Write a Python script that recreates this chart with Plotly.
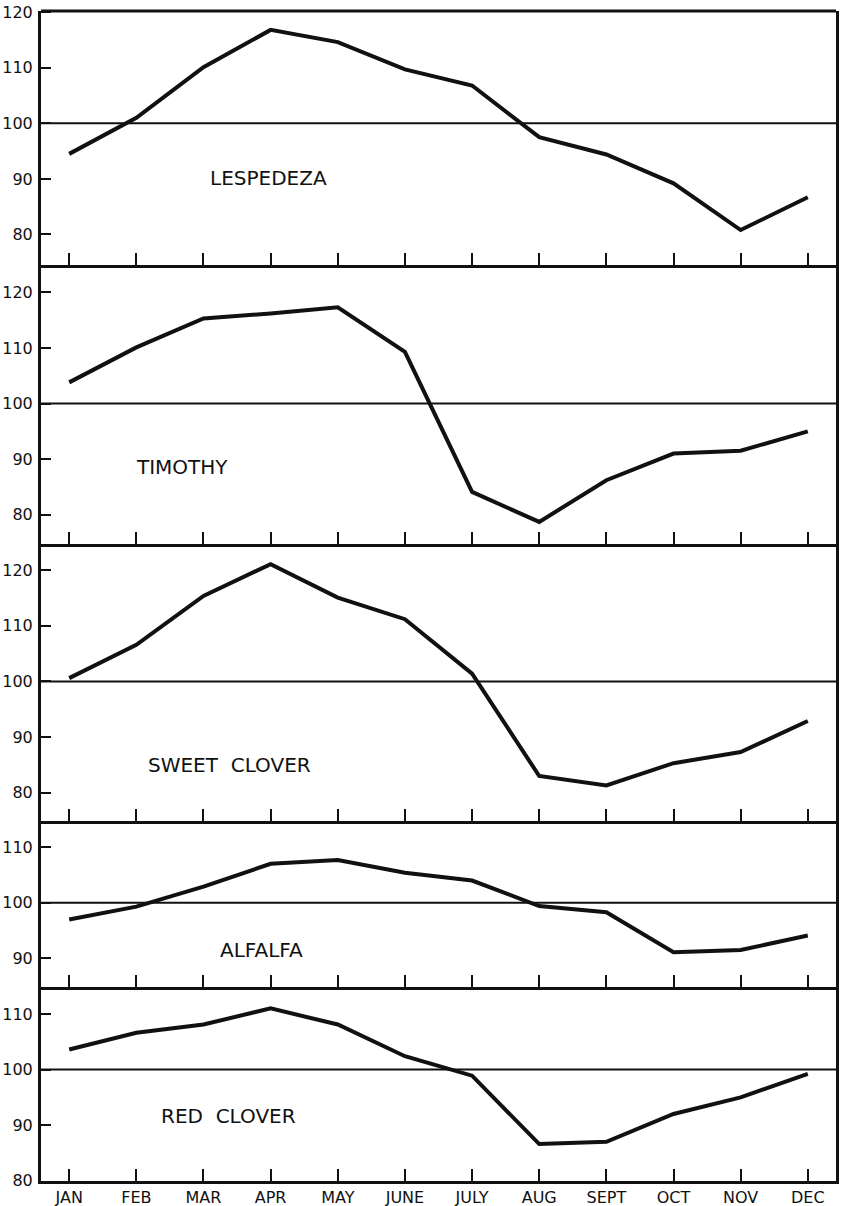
import plotly.graph_objects as go
from plotly.subplots import make_subplots

# Seasonal index of hay prices by crop (100 = yearly average)
months = ["JAN", "FEB", "MAR", "APR", "MAY", "JUNE", "JULY", "AUG", "SEPT", "OCT", "NOV", "DEC"]

lespedeza = [94.5, 101.0, 110.1, 116.8, 114.6, 109.7, 106.8, 97.5, 94.4, 89.2, 80.8, 86.7]
timothy = [103.8, 110.1, 115.3, 116.2, 117.3, 109.3, 84.1, 78.7, 86.2, 91.0, 91.5, 95.0]
sweet_clover = [100.6, 106.6, 115.4, 121.1, 115.1, 111.2, 101.4, 83.0, 81.3, 85.3, 87.3, 92.9]
alfalfa = [97.0, 99.3, 102.9, 107.0, 107.7, 105.4, 104.0, 99.4, 98.3, 91.1, 91.5, 94.1]
red_clover = [103.6, 106.6, 108.1, 111.0, 108.1, 102.4, 98.9, 86.6, 87.0, 92.0, 95.0, 99.2]

crop_names = ["LESPEDEZA", "TIMOTHY", "SWEET\u00a0\u00a0CLOVER", "ALFALFA", "RED\u00a0\u00a0CLOVER"]
series = [lespedeza, timothy, sweet_clover, alfalfa, red_clover]

# y ranges and ticks per panel
y_ranges = [[74.6, 120.2], [74.8, 125.0], [74.9, 124.8], [84.8, 114.7], [79.95, 114.8]]
y_ticks = [[80, 90, 100, 110, 120], [80, 90, 100, 110, 120], [80, 90, 100, 110, 120],
           [90, 100, 110], [80, 90, 100, 110]]
# panel name positions (month index, index value)
label_pos = [(2.97, 90.1), (1.68, 88.6), (2.38, 84.9), (2.87, 91.5), (2.37, 91.6)]

spans = [r[1] - r[0] for r in y_ranges]
fig = make_subplots(rows=5, cols=1, shared_xaxes=False, vertical_spacing=0,
                    row_heights=[s / sum(spans) for s in spans])

x_idx = list(range(len(months)))
x_range = [-0.42, 11.42]
ink = "#111111"
font = dict(family="DejaVu Sans", size=16, color=ink)

for i, vals in enumerate(series):
    row = i + 1
    fig.add_trace(go.Scatter(x=x_idx, y=vals, mode="lines",
                             line=dict(color=ink, width=4), showlegend=False,
                             hoverinfo="skip"), row=row, col=1)
    # reference line at 100
    fig.add_trace(go.Scatter(x=x_range, y=[100, 100], mode="lines",
                             line=dict(color=ink, width=2), showlegend=False,
                             hoverinfo="skip"), row=row, col=1)
    fig.update_yaxes(range=y_ranges[i], tickvals=y_ticks[i], ticktext=[str(t) for t in y_ticks[i]],
                     ticks="inside", ticklen=10, tickwidth=2, tickcolor=ink,
                     showline=True, linewidth=3, linecolor=ink, mirror=True,
                     showgrid=False, zeroline=False, tickfont=font, ticklabelstandoff=2,
                     automargin=False, row=row, col=1)
    # bottom line only: it doubles as the separator with the panel below
    fig.update_xaxes(range=x_range, tickvals=x_idx, ticktext=months,
                     ticks="inside", ticklen=12, tickwidth=2, tickcolor=ink,
                     showline=True, linewidth=3, linecolor=ink, mirror=False,
                     showgrid=False, zeroline=False, automargin=False,
                     showticklabels=(row == 5), ticklabelstandoff=0,
                     tickfont=dict(family="DejaVu Sans", size=16, color=ink),
                     row=row, col=1)
    ax = "" if i == 0 else str(row)
    fig.add_annotation(x=label_pos[i][0], y=label_pos[i][1], xref="x" + ax, yref="y" + ax,
                       text=crop_names[i], showarrow=False,
                       font=dict(family="DejaVu Sans", size=20, color=ink))

# top edge of the frame
fig.add_shape(type="line", xref="x domain", yref="y domain", x0=0, x1=1, y0=1, y1=1,
              line=dict(color=ink, width=3), layer="above")

fig.update_layout(width=843, height=1206, margin=dict(l=41, r=7, t=11, b=25),
                  paper_bgcolor="white", plot_bgcolor="white")

fig.write_html("out.html")
